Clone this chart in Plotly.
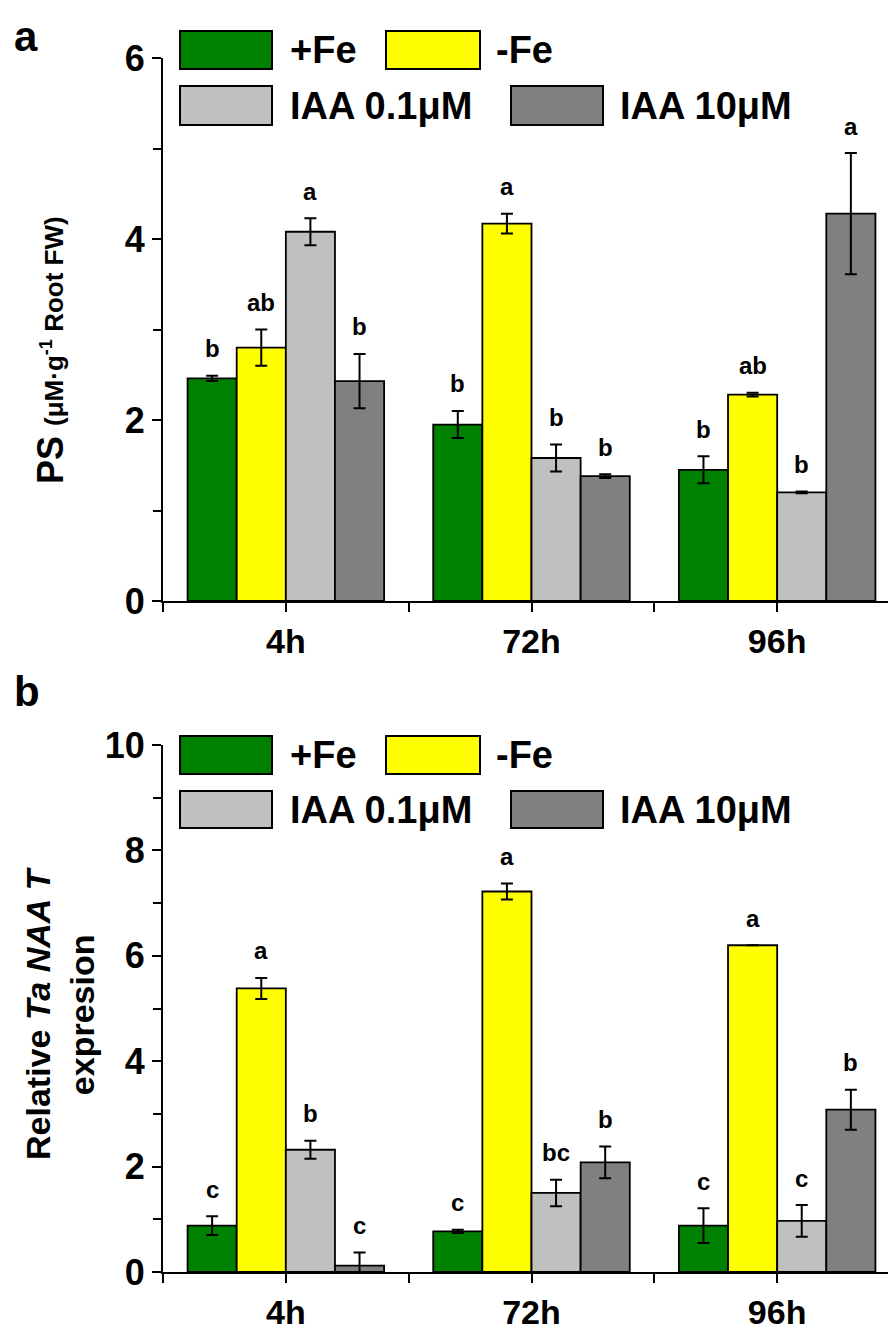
import plotly.graph_objects as go

# ---------------- data ----------------
times = ["4h", "72h", "96h"]
series = ["+Fe", "-Fe", "IAA 0.1μM", "IAA 10μM"]
colors = ["#008000", "#FFFF00", "#C0C0C0", "#808080"]

ps_vals = {
    "+Fe": [2.46, 1.95, 1.45],
    "-Fe": [2.80, 4.17, 2.28],
    "IAA 0.1μM": [4.08, 1.58, 1.20],
    "IAA 10μM": [2.43, 1.38, 4.28],
}
ps_err = {
    "+Fe": [0.03, 0.15, 0.15],
    "-Fe": [0.20, 0.11, 0.02],
    "IAA 0.1μM": [0.15, 0.15, 0.01],
    "IAA 10μM": [0.30, 0.02, 0.67],
}
ps_letters = {
    "+Fe": ["b", "b", "b"],
    "-Fe": ["ab", "a", "ab"],
    "IAA 0.1μM": ["a", "b", "b"],
    "IAA 10μM": ["b", "b", "a"],
}

naat_vals = {
    "+Fe": [0.88, 0.77, 0.88],
    "-Fe": [5.38, 7.22, 6.20],
    "IAA 0.1μM": [2.32, 1.50, 0.97],
    "IAA 10μM": [0.12, 2.08, 3.08],
}
naat_err = {
    "+Fe": [0.18, 0.03, 0.33],
    "-Fe": [0.20, 0.15, 0.00],
    "IAA 0.1μM": [0.17, 0.25, 0.30],
    "IAA 10μM": [0.25, 0.30, 0.38],
}
naat_letters = {
    "+Fe": ["c", "c", "c"],
    "-Fe": ["a", "a", "a"],
    "IAA 0.1μM": ["b", "bc", "c"],
    "IAA 10μM": ["c", "b", "b"],
}

# ---------------- layout geometry (pixels) ----------------
W, H = 896, 1332
ML, MR, MT, MB = 155, 4, 50, 68
PW, PH = W - ML - MR, H - MT - MB


def px_x(px):
    return (px - ML) / PW


def px_y(py):
    return (H - MB - py) / PH


FONT = "Liberation Sans, Arial, sans-serif"
xpos = list(range(len(times)))

fig = go.Figure()
annotations = []
shapes = []

panels = [
    (ps_vals, ps_err, ps_letters, "x", "y"),
    (naat_vals, naat_err, naat_letters, "x2", "y2"),
]

for vals, errs, letters, xa, ya in panels:
    for i, s in enumerate(series):
        fig.add_trace(go.Bar(
            x=xpos, y=vals[s], name=s, xaxis=xa, yaxis=ya,
            marker=dict(color=colors[i], line=dict(color="black", width=1.8)),
            error_y=dict(type="data", array=errs[s], color="black",
                         thickness=2, width=6),
            showlegend=False, offsetgroup=str(i),
        ))
        for j in range(len(times)):
            annotations.append(dict(
                x=xpos[j] - 0.3 + 0.2 * i, y=vals[s][j] + errs[s][j],
                xref=xa, yref=ya, text=letters[s][j], showarrow=False,
                yanchor="middle", yshift=27,
                font=dict(family=FONT, size=24, color="black", weight="bold"),
            ))

axis_common = dict(
    showline=True, linecolor="black", linewidth=2,
    ticks="outside", tickcolor="black", tickwidth=2, ticklen=9,
    showgrid=False, zeroline=False,
)
yfont = dict(family=FONT, size=36, color="black", weight="bold")
xfont = dict(family=FONT, size=34, color="black", weight="bold")

ya_top = px_y(593)
yb_top = px_y(737)

xminor = dict(ticks="outside", tick0=0.5, dtick=1, ticklen=9,
              tickwidth=2, tickcolor="black")
yminor = dict(ticks="outside", dtick=1, ticklen=8, tickwidth=2,
              tickcolor="black")

fig.update_layout(
    width=W, height=H,
    margin=dict(l=ML, r=MR, t=MT, b=MB),
    plot_bgcolor="white", paper_bgcolor="white",
    barmode="group", bargap=0.2, bargroupgap=0,
    xaxis=dict(domain=[0, 1], anchor="y", range=[-0.5, 2.5],
               tickvals=xpos, ticktext=times, minor=xminor,
               tickfont=xfont, **axis_common),
    yaxis=dict(domain=[ya_top, 1], anchor="x", range=[0, 6], dtick=2,
               minor=yminor, tickfont=yfont, **axis_common),
    xaxis2=dict(domain=[0, 1], anchor="y2", range=[-0.5, 2.5],
                tickvals=xpos, ticktext=times, minor=xminor,
                tickfont=xfont, **axis_common),
    yaxis2=dict(domain=[0, yb_top], anchor="x2", range=[0, 10], dtick=2,
                minor=yminor, tickfont=yfont, **axis_common),
)

# ---------------- legends (drawn as boxes + labels) ----------------
leg_font = dict(family=FONT, size=38, color="black", weight="bold")


def add_legend(y_row1, y_row2):
    entries = [
        (172, 264, y_row1, colors[0], 280, series[0]),
        (378, 472, y_row1, colors[1], 486, series[1]),
        (172, 264, y_row2, colors[2], 280, series[2]),
        (503, 595, y_row2, colors[3], 610, series[3]),
    ]
    for x0, x1, (y0, y1), col, tx, label in entries:
        shapes.append(dict(type="rect", xref="paper", yref="paper",
                           x0=px_x(x0), x1=px_x(x1), y0=px_y(y1), y1=px_y(y0),
                           fillcolor=col, line=dict(color="black", width=2)))
        annotations.append(dict(xref="paper", yref="paper", x=px_x(tx),
                                y=px_y((y0 + y1) / 2), text=label,
                                showarrow=False, xanchor="left",
                                yanchor="middle", font=leg_font))


add_legend((23, 61), (78, 117))
add_legend((728, 766), (783, 820))

# ---------------- panel letters & axis titles ----------------
for lab, py in (("a", 28), ("b", 684)):
    annotations.append(dict(xref="paper", yref="paper", x=px_x(4), y=px_y(py),
                            text=lab, showarrow=False, xanchor="left",
                            yanchor="middle",
                            font=dict(family=FONT, size=42, color="black",
                                      weight="bold")))

annotations.append(dict(
    xref="paper", yref="paper", x=px_x(42), y=px_y(342),
    text="PS <span style='font-size:26px'>(μM·g<sup>-1</sup> Root FW)</span>",
    showarrow=False, textangle=-90, xanchor="center", yanchor="middle",
    font=dict(family=FONT, size=36, color="black", weight="bold")))

annotations.append(dict(
    xref="paper", yref="paper", x=px_x(52), y=px_y(1005),
    text="Relative <i>Ta NAA T</i><br>expresion",
    showarrow=False, textangle=-90, xanchor="center", yanchor="middle",
    font=dict(family=FONT, size=34, color="black", weight="bold")))

fig.update_layout(annotations=annotations, shapes=shapes)

fig.write_html("out.html")
